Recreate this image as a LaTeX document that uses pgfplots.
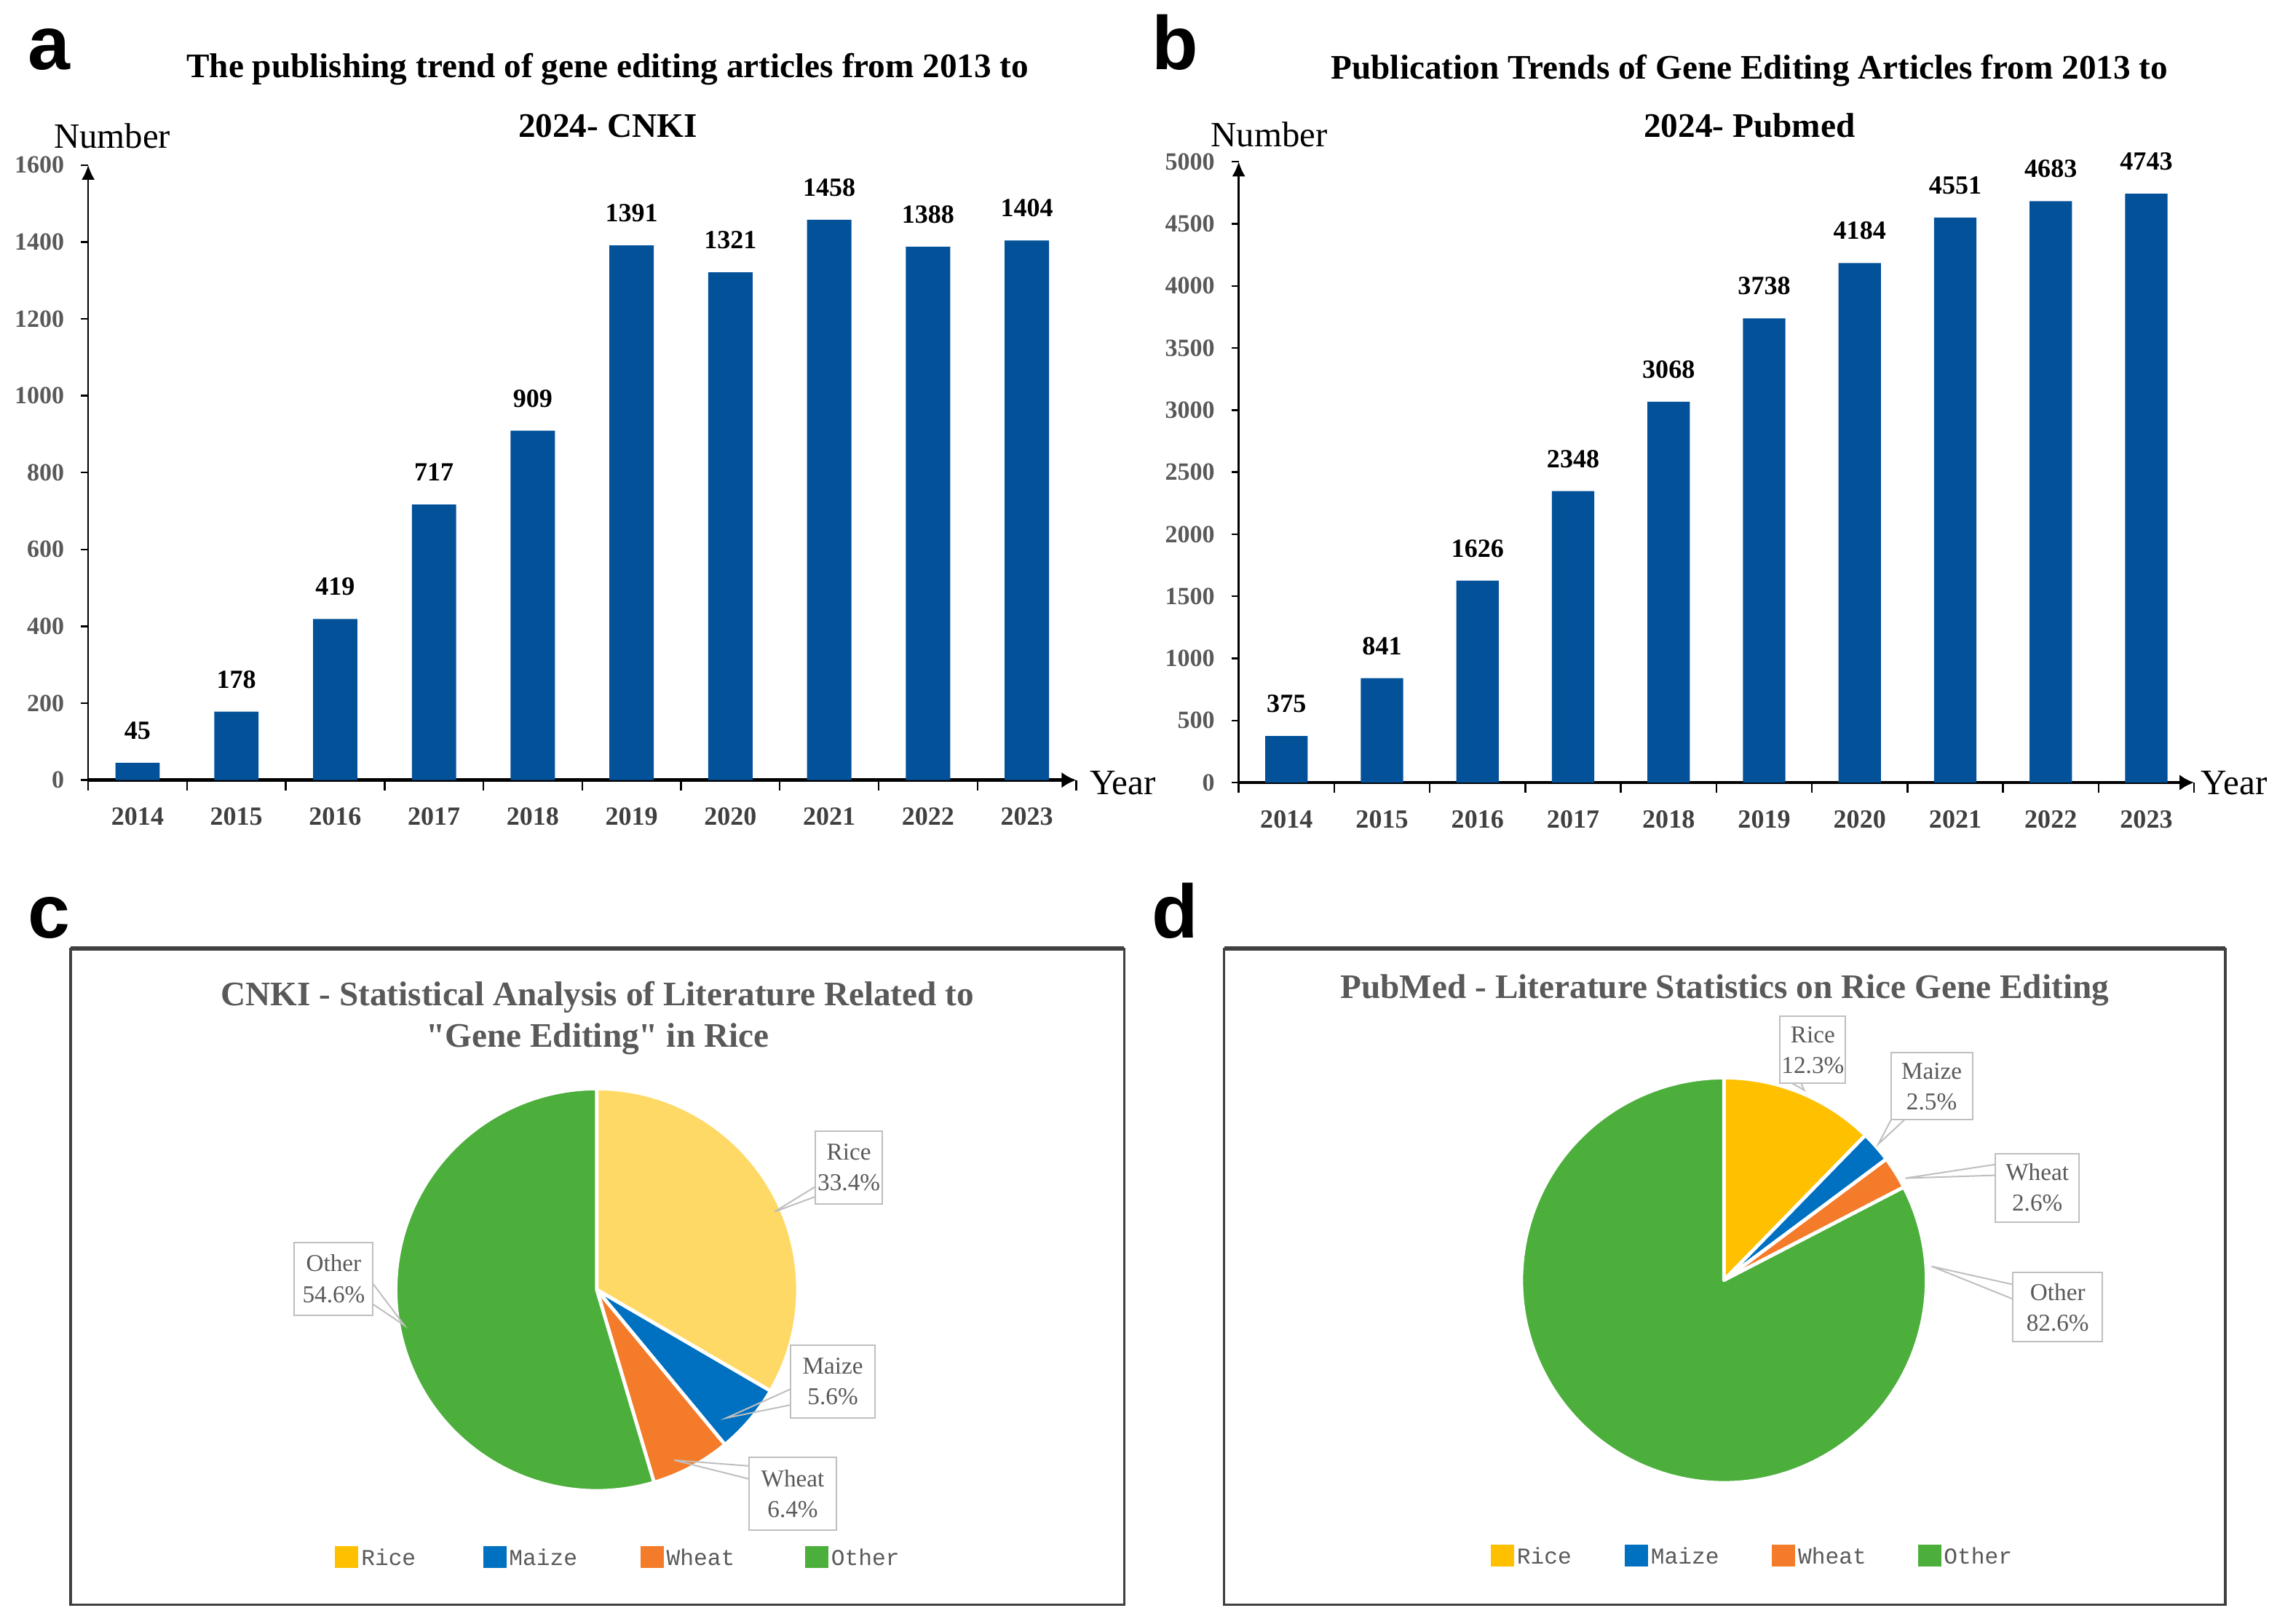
\documentclass[border=0pt]{standalone}
\usepackage{fontspec}
\setmainfont{Liberation Serif}[Ligatures=TeXOff]
\setmonofont{Liberation Mono}
\newfontfamily\letterfont{Liberation Sans}
\usepackage{pgfplots}
\pgfplotsset{compat=1.18}
\usetikzlibrary{arrows.meta}

\definecolor{barblue}{RGB}{2,81,153}
\definecolor{riceC}{RGB}{255,217,102}
\definecolor{riceD}{RGB}{255,192,0}
\definecolor{maize}{RGB}{0,112,192}
\definecolor{wheat}{RGB}{244,123,42}
\definecolor{other}{RGB}{76,174,59}
\definecolor{txtgray}{RGB}{89,89,89}
\definecolor{boxgray}{RGB}{191,191,191}
\definecolor{framegray}{RGB}{64,64,64}

\pgfplotsset{
  /pgf/number format/1000 sep={},
  /pgf/number format/assume math mode=true,
  trendbars/.style={
    scale only axis, anchor=south west,
    xmin=-0.5, xmax=9.5, ymin=0,
    axis lines=left,
    x axis line style={-{Latex[length=5pt,width=5.5pt]}, line width=1.2pt},
    y axis line style={-{Latex[length=5pt,width=4.5pt]}, line width=0.6pt},
    tick align=outside,
    xtick={0,...,9},
    xticklabels={2014,2015,2016,2017,2018,2019,2020,2021,2022,2023},
    major x tick style={draw=none},
    minor xtick={-0.5,0.5,...,9.5},
    minor tick length=3.5pt,
    major tick length=2.5pt,
    tick style={black, line width=0.6pt},
    xticklabel style={font=\bfseries\fontsize{9}{10}\selectfont, text=black!75, yshift=-3.5pt},
    yticklabel style={font=\bfseries\fontsize{8.5}{10}\selectfont, text=txtgray, xshift=-2.2pt},
    scaled y ticks=false,
    nodes near coords,
    every node near coord/.append style={font=\bfseries\fontsize{9}{10}\selectfont, text=black, yshift=4.5pt},
    clip=false,
  },
  pieaxis/.style={scale only axis, anchor=center, hide axis,
    xmin=-1.1, xmax=1.1, ymin=-1.1, ymax=1.1, clip=false},
}

% pie slice: from percent, to percent, colour, radius
\newcommand\slice[4]{%
  \fill[#3, draw=white, line width=1.2pt, line join=round]
    (axis cs:0,0) -- (axis cs:{cos(90-3.6*#1)},{sin(90-3.6*#1)})
    arc[start angle={90-3.6*#1}, end angle={90-3.6*#2}, radius=#4] -- cycle;}

\begin{document}
\begin{tikzpicture}
\path[use as bounding box] (0,0) rectangle (784pt,-557pt);

% a: CNKI bars
\begin{axis}[trendbars, at={(30.25pt,-267.65pt)}, width=339pt, height=211pt,
  ymax=1600, ytick={0,200,...,1600}]
\addplot[ybar, bar width=15.2pt, fill=barblue, draw=none] coordinates {
  (0,45) (1,178) (2,419) (3,717) (4,909) (5,1391) (6,1321) (7,1458) (8,1388) (9,1404)};
\end{axis}

% b: PubMed bars
\begin{axis}[trendbars, at={(425pt,-268.5pt)}, width=327.8pt, height=213pt,
  ymax=5000, ytick={0,500,...,5000}]
\addplot[ybar, bar width=14.5pt, fill=barblue, draw=none] coordinates {
  (0,375) (1,841) (2,1626) (3,2348) (4,3068) (5,3738) (6,4184) (7,4551) (8,4683) (9,4743)};
\end{axis}

% c: CNKI pie (Rice 33.4, Maize 5.6, Wheat 6.4, Other 54.6)
\begin{axis}[pieaxis, at={(204.75pt,-442.5pt)}, width=151.8pt, height=151.8pt]
\slice{0}{33.4}{riceC}{69pt}
\slice{33.4}{39.0}{maize}{69pt}
\slice{39.0}{45.4}{wheat}{69pt}
\slice{45.4}{100}{other}{69pt}
\end{axis}

% d: PubMed pie (Rice 12.3, Maize 2.5, Wheat 2.6, Other 82.6)
\begin{axis}[pieaxis, at={(591.5pt,-439.25pt)}, width=152.9pt, height=152.9pt]
\slice{0}{12.3}{riceD}{69.5pt}
\slice{12.3}{14.8}{maize}{69.5pt}
\slice{14.8}{17.4}{wheat}{69.5pt}
\slice{17.4}{100}{other}{69.5pt}
\end{axis}

\begin{scope}[x=0.5pt, y=-0.5pt]
  % panel letters
  \foreach \l/\px/\py in {a/19/47.5, b/790/47.5, c/19/643.5, d/790/643.5}
    \node[anchor=base west, inner sep=0pt, font=\letterfont\bfseries\fontsize{26}{26}\selectfont] at (\px,\py) {\l};

  % bar chart titles and axis names
  \tikzset{ttl/.style={anchor=base, inner sep=0pt, font=\bfseries\fontsize{11.8}{14}\selectfont}}
  \node[ttl] at (417,53.3) {The publishing trend of gene editing articles from 2013 to};
  \node[ttl] at (417,94) {2024- CNKI};
  \node[ttl] at (1200.5,54) {Publication Trends of Gene Editing Articles from 2013 to};
  \node[ttl] at (1200.5,94) {2024- Pubmed};
  \node[anchor=base, inner sep=0pt, font=\fontsize{12.2}{14}\selectfont] at (77,101.5) {Number};
  \node[anchor=base, inner sep=0pt, font=\fontsize{12.2}{14}\selectfont] at (871,100.8) {Number};
  \node[anchor=base west, inner sep=0pt, font=\fontsize{12.3}{14}\selectfont] at (747.5,545) {Year};
  \node[anchor=base west, inner sep=0pt, font=\fontsize{12.3}{14}\selectfont] at (1510,545) {Year};

  % pie frames
  \draw[framegray, line width=0.8pt] (48.5,651) rectangle (771.5,1101);
  \draw[framegray, line width=0.8pt] (840,651) rectangle (1527,1101);
  \draw[framegray, line width=1.6pt] (48.5,651) -- (771.5,651);
  \draw[framegray, line width=1.6pt] (840,651) -- (1527,651);

  % pie titles
  \tikzset{pttl/.style={anchor=base, inner sep=0pt, text=txtgray, font=\bfseries\fontsize{11.8}{14}\selectfont}}
  \node[pttl] at (410,690) {CNKI - Statistical Analysis of Literature Related to};
  \node[pttl] at (410,718.5) {"Gene Editing" in Rice};
  \node[pttl] at (1183.5,685) {PubMed - Literature Statistics on Rice Gene Editing};

  % leader lines
  \tikzset{ldr/.style={boxgray, line width=0.5pt}}
  \draw[ldr] (560,814) -- (531.5,831.5) -- (560,821);
  \draw[ldr] (543,953) -- (498.5,973) -- (543,964);
  \draw[ldr] (514.5,1006) -- (462.7,1002) -- (514.5,1015);
  \draw[ldr] (256,881) -- (277.5,909.5) -- (256,895);
  \draw[ldr] (1230,743.5) -- (1238,748) -- (1236,743.5);
  \draw[ldr] (1297.7,768.3) -- (1289,785) -- (1307,768.3);
  \draw[ldr] (1369.5,799) -- (1307.5,808.5) -- (1369.5,806.5);
  \draw[ldr] (1381.5,881.5) -- (1325.5,869) -- (1381.5,891.5);

  % data labels
  \tikzset{lbl/.style={draw=boxgray, fill=white, text=txtgray, line width=0.5pt,
    font=\fontsize{8.3}{10.5}\selectfont, align=center, inner sep=0.5pt}}
  \node[lbl, minimum width=23pt, minimum height=25pt] at (582.5,801) {Rice\\33.4\%};
  \node[lbl, minimum width=29pt, minimum height=25pt] at (571.5,948) {Maize\\5.6\%};
  \node[lbl, minimum width=30pt, minimum height=25pt] at (544,1025) {Wheat\\6.4\%};
  \node[lbl, minimum width=27pt, minimum height=25pt] at (229,877.5) {Other\\54.6\%};
  \node[lbl, minimum width=21.7pt, minimum height=23pt] at (1244,720.5) {Rice\\12.3\%};
  \node[lbl, minimum width=28pt, minimum height=23pt] at (1325.5,745.5) {Maize\\2.5\%};
  \node[lbl, minimum width=28.7pt, minimum height=23.5pt] at (1398,815) {Wheat\\2.6\%};
  \node[lbl, minimum width=30.7pt, minimum height=23.7pt] at (1412,897) {Other\\82.6\%};

  % legends
  \tikzset{leg/.style={anchor=west, inner sep=0pt, text=txtgray, font=\ttfamily\fontsize{7.8}{9}\selectfont}}
  \foreach \c/\n/\px in {riceD/Rice/230, maize/Maize/331.5, wheat/Wheat/439.5, other/Other/552.5} {
    \fill[\c] (\px,1061) rectangle ++(16,15);
    \node[leg] at ({\px+17.5},1068.5) {\n};
  }
  \foreach \c/\n/\px in {riceD/Rice/1023, maize/Maize/1115, wheat/Wheat/1216, other/Other/1316} {
    \fill[\c] (\px,1060) rectangle ++(16,15);
    \node[leg] at ({\px+17.5},1067.5) {\n};
  }
\end{scope}
\end{tikzpicture}
\end{document}
